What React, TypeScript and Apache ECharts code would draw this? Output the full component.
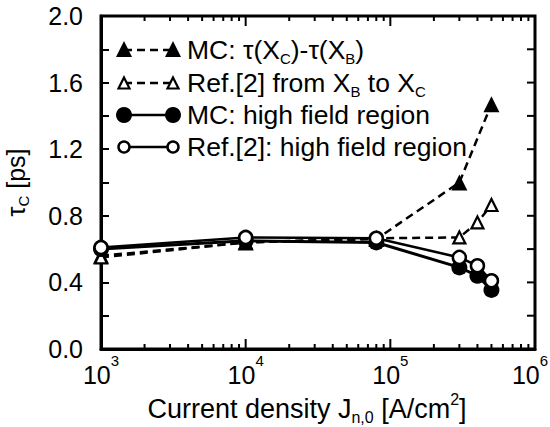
import React, { useEffect, useRef } from 'react';
import * as echarts from 'echarts';

// Current density J_n,0 [A/cm^2]
const mcTransitX = [1e3, 1e4, 8e4, 3e5, 5e5];
const mcTransitY = [0.56, 0.64, 0.66, 1.0, 1.47];

const refTransitX = [1e3, 1e4, 8e4, 3e5, 4e5, 5e5];
const refTransitY = [0.55, 0.64, 0.665, 0.67, 0.76, 0.865];

const mcHighX = [1e3, 1e4, 8e4, 3e5, 4e5, 5e5];
const mcHighY = [0.6, 0.65, 0.64, 0.49, 0.44, 0.355];

const refHighX = [1e3, 1e4, 8e4, 3e5, 4e5, 5e5];
const refHighY = [0.61, 0.67, 0.665, 0.55, 0.5, 0.41];

const xMin = 1e3;
const xMax = 1e6;
const yMin = 0;
const yMax = 2.0;
const majorTicksX = [1e4, 1e5];
const minorTicksX = [
  2e3, 3e3, 4e3, 5e3, 6e3, 7e3, 8e3, 9e3,
  2e4, 3e4, 4e4, 5e4, 6e4, 7e4, 8e4, 9e4,
  2e5, 3e5, 4e5, 5e5, 6e5, 7e5, 8e5, 9e5,
];
const ticksY = [0.2, 0.4, 0.6, 0.8, 1.0, 1.2, 1.4, 1.6, 1.8];

const legendNames = [
  'MC: τ(X{sub|C})-τ(X{sub|B})',
  'Ref.[2] from X{sub|B} to X{sub|C}',
  'MC: high field region',
  'Ref.[2]: high field region',
];

const FONT = '"Liberation Sans", Arial, Helvetica, sans-serif';

const zip = (xs: number[], ys: number[]) => xs.map((x, i) => [x, ys[i]]);

export default function App() {
  const ref = useRef<HTMLDivElement>(null);
  useEffect(() => {
    if (!ref.current) return;
    const chart = echarts.init(ref.current, null, { renderer: 'svg' });

    const richText = {
      base: { fontSize: 26.5, fontFamily: FONT, color: '#000', lineHeight: 32 },
      sub: { fontSize: 15, fontFamily: FONT, color: '#000', lineHeight: 15, verticalAlign: 'bottom' },
    };

    const rows = [50, 83, 115, 147];
    const ix1 = 124;
    const ix2 = 173;
    const tri = (cx: number, cy: number, s: number) => [
      [cx, cy - s / 2],
      [cx + s / 2, cy + s / 2],
      [cx - s / 2, cy + s / 2],
    ];

    const legendGraphics: any[] = [];
    legendGraphics.push({ type: 'line', shape: { x1: ix1, y1: rows[0], x2: ix2, y2: rows[0] }, style: { stroke: '#000', lineWidth: 2.5, lineDash: [8, 5] } });
    [ix1, ix2].forEach((x) => legendGraphics.push({ type: 'polygon', shape: { points: tri(x, rows[0] - 1, 16) }, style: { fill: '#000' } }));
    legendGraphics.push({ type: 'line', shape: { x1: ix1, y1: rows[1], x2: ix2, y2: rows[1] }, style: { stroke: '#000', lineWidth: 2.5, lineDash: [8, 5] } });
    [ix1, ix2].forEach((x) => legendGraphics.push({ type: 'polygon', shape: { points: tri(x, rows[1], 11) }, style: { fill: '#fff', stroke: '#000', lineWidth: 2.2 } }));
    legendGraphics.push({ type: 'line', shape: { x1: ix1, y1: rows[2], x2: ix2, y2: rows[2] }, style: { stroke: '#000', lineWidth: 2.5 } });
    [ix1, ix2].forEach((x) => legendGraphics.push({ type: 'circle', shape: { cx: x, cy: rows[2], r: 8 }, style: { fill: '#000' } }));
    legendGraphics.push({ type: 'line', shape: { x1: ix1, y1: rows[3], x2: ix2, y2: rows[3] }, style: { stroke: '#000', lineWidth: 2.5 } });
    [ix1, ix2].forEach((x) => legendGraphics.push({ type: 'circle', shape: { cx: x, cy: rows[3], r: 5.5 }, style: { fill: '#fff', stroke: '#000', lineWidth: 2.5 } }));
    legendNames.forEach((name, i) => {
      legendGraphics.push({
        type: 'text',
        x: 187,
        y: rows[i],
        style: {
          text: `{base|${name.replace(/\{sub\|(\w)\}/g, '}{sub|$1}{base|')}}`,
          rich: richText,
          verticalAlign: 'middle',
          align: 'left',
        },
      });
    });

    const axisLabelRich = {
      base: { fontSize: 25, fontFamily: FONT, color: '#000', lineHeight: 34, verticalAlign: 'bottom' },
      sup: { fontSize: 15, fontFamily: FONT, color: '#000', lineHeight: 15, verticalAlign: 'top' },
      supEnd: { fontSize: 15, fontFamily: FONT, color: '#000', lineHeight: 15, verticalAlign: 'top', padding: [0, 10, 0, 0] },
    };

    const option: any = {
      animation: false,
      grid: {
        left: 101, right: 15, top: 16, bottom: 78,
        outerBoundsMode: 'none',
        show: true, borderColor: '#000', borderWidth: 3, backgroundColor: 'transparent',
      },
      xAxis: {
        type: 'log',
        min: xMin,
        max: xMax,
        name: '{base|Current density J}{sub|n,0}{base| [A/cm}{sup|2}{base|]}',
        nameLocation: 'middle',
        nameGap: 33,
        nameTextStyle: {
          padding: [0, 22, 0, 0],
          rich: {
            base: { fontSize: 27, fontFamily: FONT, color: '#000', lineHeight: 34 },
            sub: { fontSize: 16, fontFamily: FONT, color: '#000', lineHeight: 16, verticalAlign: 'bottom' },
            sup: { fontSize: 16, fontFamily: FONT, color: '#000', lineHeight: 16, verticalAlign: 'top' },
          },
        },
        axisLine: { show: true, lineStyle: { color: '#000', width: 3 } },
        axisTick: { show: false },
        axisLabel: {
          margin: 4,
          formatter: (v: number) => {
            const e = Math.round(Math.log10(v));
            return e === 6 ? `{base|10}{supEnd|${e}}` : `{base|10}{sup|${e}}`;
          },
          rich: axisLabelRich,
        },
        splitLine: { show: false },
      },
      yAxis: {
        type: 'value',
        min: yMin,
        max: yMax,
        interval: 0.2,
        name: '{base|τ}{sub|C}{base| [ps]}',
        nameLocation: 'middle',
        nameRotate: 90,
        nameGap: 70,
        nameTextStyle: {
          rich: {
            base: { fontSize: 25, fontFamily: FONT, color: '#000', lineHeight: 30 },
            sub: { fontSize: 15, fontFamily: FONT, color: '#000', lineHeight: 15, verticalAlign: 'bottom' },
          },
        },
        axisLine: { show: true, onZero: false, lineStyle: { color: '#000', width: 3 } },
        axisTick: { show: true, inside: true, length: 8, lineStyle: { color: '#000', width: 2 } },
        axisLabel: {
          margin: 18,
          fontSize: 25,
          fontFamily: FONT,
          color: '#000',
          formatter: (v: number) => (Math.round(v * 10) % 4 === 0 ? v.toFixed(1) : ''),
        },
        splitLine: { show: false },
      },
      series: [
        {
          type: 'line',
          name: 'MC: τ(XC)-τ(XB)',
          data: zip(mcTransitX, mcTransitY),
          symbol: 'triangle',
          symbolSize: 16,
          lineStyle: { color: '#000', width: 2.5, type: [8, 5] },
          itemStyle: { color: '#000' },
          z: 3,
        },
        {
          type: 'line',
          name: 'Ref.[2] from XB to XC',
          data: zip(refTransitX, refTransitY),
          symbol: 'triangle',
          symbolSize: 12,
          lineStyle: { color: '#000', width: 2.5, type: [8, 5] },
          itemStyle: { color: '#fff', borderColor: '#000', borderWidth: 2.2 },
          z: 4,
        },
        {
          type: 'line',
          name: 'MC: high field region',
          data: zip(mcHighX, mcHighY),
          symbol: 'circle',
          symbolSize: 16,
          lineStyle: { color: '#000', width: 3 },
          itemStyle: { color: '#000' },
          z: 5,
        },
        {
          type: 'line',
          name: 'Ref.[2]: high field region',
          data: zip(refHighX, refHighY),
          symbol: 'circle',
          symbolSize: 13,
          lineStyle: { color: '#000', width: 2.5 },
          itemStyle: { color: '#fff', borderColor: '#000', borderWidth: 2.5 },
          z: 6,
        },
      ],
      graphic: { elements: legendGraphics },
    };
    chart.setOption(option);

    // frame tick marks: positions come from the chart's own axis scales
    const px = (v: number) => chart.convertToPixel({ xAxisIndex: 0 }, v) as number;
    const py = (v: number) => chart.convertToPixel({ yAxisIndex: 0 }, v) as number;
    const yb = py(yMin);
    const yt = py(yMax);
    const xr = px(xMax);
    const tickGraphics: any[] = [];
    const tickStyle = { stroke: '#000', lineWidth: 2 };
    const addX = (xs: number[], len: number) =>
      xs.forEach((v) => {
        const x = px(v);
        if (!isFinite(x)) return;
        tickGraphics.push({ type: 'line', z: 20, shape: { x1: x, y1: yb, x2: x, y2: yb - len }, style: tickStyle });
        tickGraphics.push({ type: 'line', z: 20, shape: { x1: x, y1: yt, x2: x, y2: yt + len }, style: tickStyle });
      });
    addX(minorTicksX, 5);
    addX(majorTicksX, 10);
    ticksY.forEach((v) => {
      const y = py(v);
      if (!isFinite(y)) return;
      tickGraphics.push({ type: 'line', z: 20, shape: { x1: xr, y1: y, x2: xr - 8, y2: y }, style: tickStyle });
    });
    chart.setOption({ graphic: { elements: [...legendGraphics, ...tickGraphics] } });

    return () => chart.dispose();
  }, []);
  return <div ref={ref} style={{ width: 550, height: 427, position: 'absolute', left: 0, top: 0 }} />;
}
